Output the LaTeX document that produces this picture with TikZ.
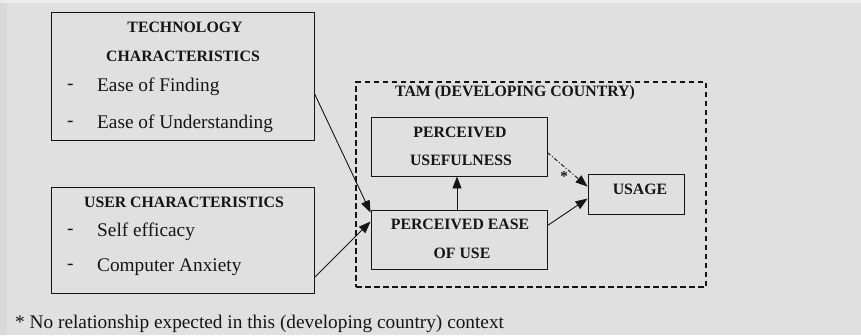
\documentclass[tikz,border=0pt]{standalone}
\usepackage{fontspec}
\setmainfont{Liberation Serif}
\usetikzlibrary{arrows.meta,calc}
\definecolor{bg}{HTML}{E0E0E0}
\definecolor{strip}{HTML}{D9D9D9}
\definecolor{ink}{HTML}{151515}
\tikzset{
  box/.style={draw=ink,line width=0.9pt,inner sep=0pt,minimum width=#1},
  frame/.style={draw=ink,line width=1.1pt,dash pattern=on 5.5pt off 3.5pt,inner sep=0pt},
  hd/.style={inner sep=0pt,text=ink,font=\fontsize{15.8}{18}\selectfont\bfseries},
  tx/.style={inner sep=0pt,text=ink,font=\fontsize{19.3}{22}\selectfont,anchor=west},
  conn/.style={draw=ink,line width=0.9pt,-{Triangle[length=12pt,width=9pt]}},
}
\begin{document}
\begin{tikzpicture}[x=1pt,y=-1pt]
\fill[bg] (0,0) rectangle (861,335);
\fill[strip] (0,0) rectangle (7,335);
\fill[bg!60!white] (0,0) rectangle (861,3);
\useasboundingbox (0,0) rectangle (861,335);

% boxes
\node[box=263pt,minimum height=128pt] (tech) at (182.5,76) {};
\node[box=263pt,minimum height=106pt] (user) at (182.5,240) {};
\node[frame,minimum width=350pt,minimum height=205pt] (tam) at (531,184.5) {};
\node[box=176pt,minimum height=59pt] (pu) at (459,146.5) {};
\node[box=176pt,minimum height=59pt] (peou) at (459,239.5) {};
\node[box=96pt,minimum height=40pt] (usage) at (636,194) {};

% texts
\node[hd] (t1) at (185,27) {TECHNOLOGY};
\node[hd] (t2) at (183,56) {CHARACTERISTICS};
\node[tx] (t3d) at (67,87) {-};
\node[tx] (t3) at (97,87) {Ease of Finding};
\node[tx] (t4d) at (67,124) {-};
\node[tx] (t4) at (97,124) {Ease of Understanding};

\node[hd] (u1) at (184,202) {USER CHARACTERISTICS};
\node[tx] (u2d) at (67,232) {-};
\node[tx] (u2) at (97,232) {Self efficacy};
\node[tx] (u3d) at (67,267) {-};
\node[tx] (u3) at (97,267) {Computer Anxiety};

\node[hd,anchor=west] (tamlab) at (395,93) {TAM (DEVELOPING COUNTRY)};
\node[hd] (p1) at (460,132) {PERCEIVED};
\node[hd] (p2) at (461,160) {USEFULNESS};
\node[hd] (e1) at (460,224) {PERCEIVED EASE};
\node[hd] (e2) at (462,253) {OF USE};
\node[hd] (us) at (640,189) {USAGE};

\node[tx,anchor=center,font=\fontsize{15}{16}\selectfont\bfseries] (star) at (564,177) {*};
\node[tx] (foot) at (15,324) {* No relationship expected in this (developing country) context};

% connectors
\coordinate (ta) at ($(tech.north east)+(0,82)$);
\coordinate (ua) at ($(user.north east)+(0,91)$);
\draw[conn] (ta) -- ($(peou.north west)+(0,3)$);
\draw[conn] (ua) -- ($(peou.north west)+(0,12)$);
\draw[conn] ($(peou.north)+(-2,0)$) -- ($(pu.south)+(-2,0)$);
\draw[conn] ($(peou.north east)+(0,16)$) -- ($(usage.north west)+(0,25)$);
\draw[conn,dash pattern=on 4pt off 2pt on 1pt off 2pt] ($(pu.north east)+(0,36)$) -- ($(usage.north west)+(0,13)$);
\end{tikzpicture}
\end{document}
